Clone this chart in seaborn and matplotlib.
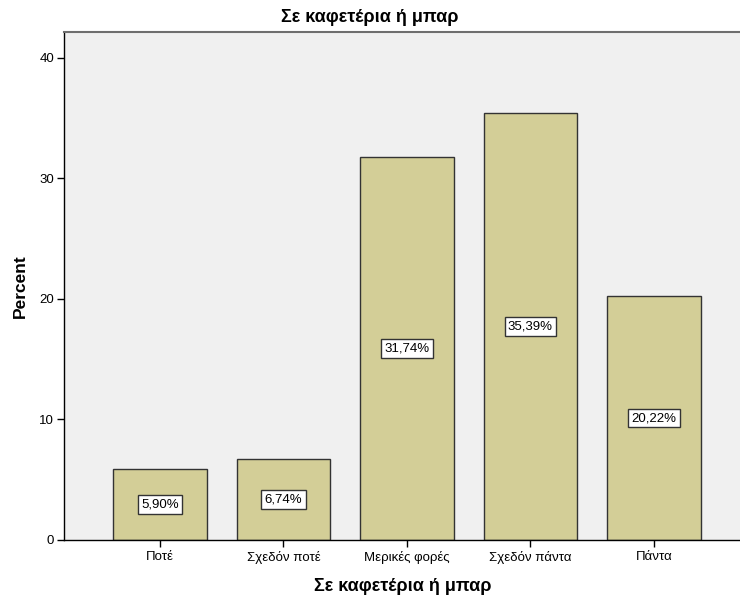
import matplotlib
matplotlib.use("Agg")
import matplotlib.pyplot as plt
import seaborn as sns
import pandas as pd

categories = ["Ποτέ", "Σχεδόν ποτέ", "Μερικές φορές", "Σχεδόν πάντα", "Πάντα"]
percents = [5.90, 6.74, 31.74, 35.39, 20.22]
yticks = [0, 10, 20, 30, 40]
title = "Σε καφετέρια ή μπαρ"

sns.set_theme(style="white")
plt.rcParams["font.family"] = ["Liberation Sans", "DejaVu Sans"]
plt.rcParams["text.color"] = "black"
plt.rcParams["axes.labelcolor"] = "black"
plt.rcParams["xtick.color"] = "black"
plt.rcParams["ytick.color"] = "black"

df = pd.DataFrame({"cat": categories, "pct": percents})

fig = plt.figure(figsize=(7.4, 6.03), dpi=100)
ax = fig.add_axes([64 / 740, 1 - 540 / 603, 677 / 740, 508 / 603])
ax.set_facecolor("#f0f0f0")

sns.barplot(data=df, x="cat", y="pct", ax=ax, color="#d3ce97",
            saturation=1, width=0.755, edgecolor="#333333", linewidth=1.0)

# percentage labels in white boxes at the middle of each bar
for i, v in enumerate(percents):
    ax.text(i, v / 2, f"{v:.2f}%".replace(".", ","), ha="center", va="center",
            fontsize=9.5, color="black",
            bbox=dict(boxstyle="square,pad=0.25", facecolor="white",
                      edgecolor="#333333", linewidth=1.0))

ax.set_xlim(-0.777, 4.705)
ax.set_ylim(0, 42.15)
ax.set_yticks(yticks)
ax.set_yticklabels([str(t) for t in yticks])
ax.tick_params(axis="both", which="major", direction="out", length=5, width=1,
               color="black", labelcolor="black", labelsize=9.5, pad=2,
               bottom=True, left=True)
ax.tick_params(axis="x", pad=3)

for side in ["left", "bottom"]:
    ax.spines[side].set_color("black")
    ax.spines[side].set_linewidth(1.0)
ax.spines["top"].set_color("#6e6e6e")
ax.spines["top"].set_linewidth(1.5)
ax.spines["right"].set_visible(False)

ax.set_xlabel(title, fontsize=13, fontweight="bold", labelpad=10, color="black")
ax.set_ylabel("Percent", fontsize=12.5, fontweight="bold", labelpad=8,
              color="black")
fig.text(0.5, 1 - 17 / 603, title, ha="center", va="center",
         fontsize=13, fontweight="bold", color="black")

fig.savefig("out.png", dpi=100, facecolor="white")
